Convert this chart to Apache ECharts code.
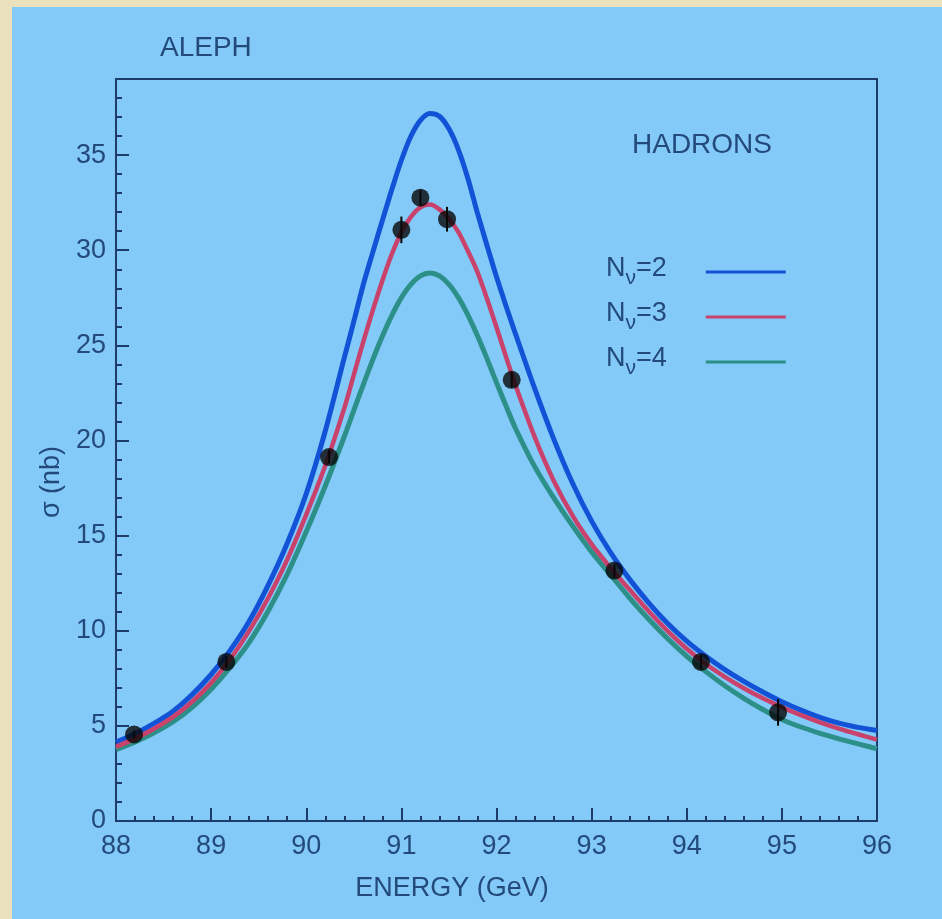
<!DOCTYPE html>
<html>
<head>
<meta charset="utf-8">
<script src="https://cdn.jsdelivr.net/npm/echarts@6/dist/echarts.min.js"></script>
<style>
html, body { margin: 0; padding: 0; background: #ece1bd; }
#chart { width: 942px; height: 919px; }
</style>
</head>
<body>
<div id="chart"></div>
<script>
// ---- data ----
const energies = [88.0, 88.2, 88.4, 88.6, 88.8, 89.0, 89.2, 89.4, 89.6, 89.8, 90.0, 90.2, 90.4,
                  90.5, 90.6, 90.7, 90.8, 90.9, 91.0, 91.1, 91.2, 91.3, 91.4, 91.5, 91.6, 91.7, 91.8, 91.9, 92.0, 92.1, 92.2,
                  92.4, 92.6, 92.8, 93.0, 93.2, 93.4, 93.6, 93.8, 94.0, 94.2, 94.4, 94.6, 94.8, 95.0, 95.2, 95.4, 95.6, 95.8, 96.0];
const sigmaN2 = [4.15, 4.59, 5.13, 5.77, 6.64, 7.70, 8.97, 10.5, 12.4, 14.6, 17.2, 20.5, 24.35,
                 26.26, 28.2, 29.9, 31.56, 33.2, 34.73, 35.99, 36.83, 37.19, 37.04, 36.38, 35.28, 33.76, 31.95, 30.25, 28.6, 27.07, 25.6,
                 22.75, 20.1, 17.75, 15.76, 14.1, 12.7, 11.47, 10.38, 9.45, 8.66, 7.96, 7.34, 6.78, 6.27, 5.83, 5.45, 5.14, 4.92, 4.76];
const sigmaN3 = [3.90, 4.33, 4.85, 5.47, 6.27, 7.26, 8.50, 9.99, 11.72, 13.74, 16.10, 18.68, 21.7,
                 23.45, 25.2, 26.85, 28.4, 29.8, 30.95, 31.75, 32.25, 32.4, 32.15, 31.65, 30.95, 29.95, 28.85, 27.45, 25.95, 24.4, 22.9,
                 20.2, 17.9, 16.05, 14.55, 13.3, 12.15, 11.02, 9.98, 9.05, 8.25, 7.58, 6.98, 6.45, 5.98, 5.56, 5.19, 4.86, 4.56, 4.28];
const sigmaN4 = [3.75, 4.16, 4.64, 5.22, 5.98, 6.93, 8.07, 9.39, 11.04, 12.97, 15.21, 17.61, 20.21,
                 21.58, 22.94, 24.25, 25.48, 26.58, 27.51, 28.21, 28.65, 28.8, 28.65, 28.21, 27.51, 26.59, 25.5, 24.3, 23.04, 21.82, 20.63,
                 18.64, 17.0, 15.51, 14.14, 12.93, 11.72, 10.6, 9.58, 8.66, 7.85, 7.11, 6.45, 5.86, 5.34, 4.94, 4.61, 4.32, 4.05, 3.80];

const dataE     = [88.19, 89.16, 90.24, 91.00, 91.20, 91.48, 92.16, 93.24, 94.15, 94.96];
const dataSigma = [4.55, 8.36, 19.13, 31.07, 32.76, 31.63, 23.19, 13.16, 8.36, 5.71];
const dataErr   = [0.2, 0.3, 0.35, 0.7, 0.4, 0.65, 0.4, 0.35, 0.35, 0.7];

const xTicks = [88, 89, 90, 91, 92, 93, 94, 95, 96];
const yTicks = [0, 5, 10, 15, 20, 25, 30, 35];
const legendLabels = ['N\u03bd=2', 'N\u03bd=3', 'N\u03bd=4'];
const titleText = 'ALEPH';
const channelText = 'HADRONS';
const xName = 'ENERGY (GeV)';
const yName = '\u03c3 (nb)';

// ---- styles ----
const FONT = 'Liberation Sans';
const INK = '#244a7c';
const AXIS = '#1d3c69';
const BLUE = '#1252d6';
const RED = '#c8426c';
const GREEN = '#2c8f88';

const curves = [sigmaN2, sigmaN3, sigmaN4];
const colors = [BLUE, RED, GREEN];
const lineSeries = curves.map((vals, k) => ({
  type: 'line',
  name: legendLabels[k],
  data: energies.map((e, i) => [e, vals[i]]),
  showSymbol: false,
  smooth: 0.3,
  color: colors[k],
  lineStyle: { width: k === 1 ? 4.5 : 5, color: colors[k] },
  z: k === 1 ? 4 : (k === 0 ? 2 : 3),
  silent: true
}));

const chart = echarts.init(document.getElementById('chart'), null, { renderer: 'canvas' });
chart.setOption({
  animation: false,
  backgroundColor: '#83caf8',
  textStyle: { fontFamily: FONT },
  graphic: [
    { type: 'rect', shape: { x: 0, y: 0, width: 942, height: 7 }, style: { fill: '#ece1bd' }, silent: true },
    { type: 'rect', shape: { x: 0, y: 0, width: 12, height: 919 }, style: { fill: '#ece1bd' }, silent: true }
  ],
  title: [
    { text: titleText, left: 160, top: 34, padding: 0,
      textStyle: { fontFamily: FONT, fontSize: 28, fontWeight: 'normal', color: INK, lineHeight: 28 } },
    { text: channelText, left: 632, top: 131, padding: 0,
      textStyle: { fontFamily: FONT, fontSize: 28, fontWeight: 'normal', color: INK, lineHeight: 28 } }
  ],
  legend: {
    data: legendLabels,
    orient: 'vertical',
    align: 'right',
    left: 606,
    top: 255,
    padding: 0,
    itemGap: 11,
    itemWidth: 80,
    itemHeight: 3,
    icon: 'rect',
    selectedMode: false,
    formatter: function (name) {
      const parts = name.split('=');
      return '{n|N}{s|\u03bd}{e|=' + parts[1] + '}';
    },
    textStyle: {
      color: INK,
      fontFamily: FONT,
      rich: {
        n: { fontSize: 27, lineHeight: 2, verticalAlign: 'top', color: INK, fontFamily: FONT },
        s: { fontSize: 21, lineHeight: 34, verticalAlign: 'bottom', color: INK, fontFamily: FONT },
        e: { fontSize: 27, lineHeight: 2, verticalAlign: 'top', color: INK, fontFamily: FONT, padding: [0, 34, 0, 0] }
      }
    }
  },
  grid: {
    left: 116, right: 65, top: 79, bottom: 98,
    show: true, borderColor: AXIS, borderWidth: 2, backgroundColor: 'transparent'
  },
  xAxis: {
    type: 'value',
    min: 88, max: 96, interval: 1,
    name: xName,
    nameLocation: 'middle',
    nameGap: 54,
    nameTextStyle: { fontFamily: FONT, fontSize: 27, color: INK, padding: [0, 89, 0, 0] },
    axisLine: { show: true, lineStyle: { color: AXIS, width: 2 } },
    axisTick: { show: true, inside: true, length: 13, lineStyle: { color: AXIS, width: 2 } },
    minorTick: { show: true, splitNumber: 5, length: 5, lineStyle: { color: AXIS, width: 2 } },
    axisLabel: {
      fontFamily: FONT, fontSize: 27, color: INK, margin: 12, lineHeight: 27,
      formatter: function (v) { return xTicks.indexOf(v) >= 0 ? String(v) : ''; }
    },
    splitLine: { show: false }
  },
  yAxis: [
    {
      type: 'value',
      min: 0, max: 39, interval: 5,
      position: 'left',
      name: yName,
      nameLocation: 'middle',
      nameGap: 32,
      nameTextStyle: { fontFamily: FONT, fontSize: 27, color: INK, padding: [0, 64, 0, 0] },
      axisLine: { show: true, lineStyle: { color: AXIS, width: 2 } },
      axisTick: { show: true, inside: true, length: 13, customValues: yTicks, lineStyle: { color: AXIS, width: 2 } },
      axisLabel: {
        fontFamily: FONT, fontSize: 27, color: INK, margin: 10, padding: [0, 0, 17, 0],
        customValues: yTicks,
        formatter: function (v) { return yTicks.indexOf(v) >= 0 ? String(v) : ''; }
      },
      splitLine: { show: false }
    },
    {
      type: 'value',
      min: 0, max: 39, interval: 1,
      position: 'left',
      axisLine: { show: false },
      axisTick: { show: true, inside: true, length: 6, lineStyle: { color: AXIS, width: 2 } },
      axisLabel: { show: false },
      splitLine: { show: false }
    }
  ],
  series: lineSeries.concat([
    {
      type: 'custom',
      name: 'errors',
      data: dataE.map((e, i) => [e, dataSigma[i] - dataErr[i], dataSigma[i] + dataErr[i]]),
      encode: { x: 0, y: [1, 2] },
      renderItem: function (params, api) {
        const lo = api.coord([api.value(0), api.value(1)]);
        const hi = api.coord([api.value(0), api.value(2)]);
        return {
          type: 'line',
          shape: { x1: lo[0], y1: lo[1], x2: hi[0], y2: hi[1] },
          style: { stroke: '#050505', lineWidth: 2 }
        };
      },
      z: 5,
      silent: true
    },
    {
      type: 'scatter',
      name: 'data',
      data: dataE.map((e, i) => [e, dataSigma[i]]),
      symbol: 'circle',
      symbolSize: 18,
      itemStyle: { color: '#070707' },
      z: 6,
      silent: true
    }
  ])
});
</script>
</body>
</html>
